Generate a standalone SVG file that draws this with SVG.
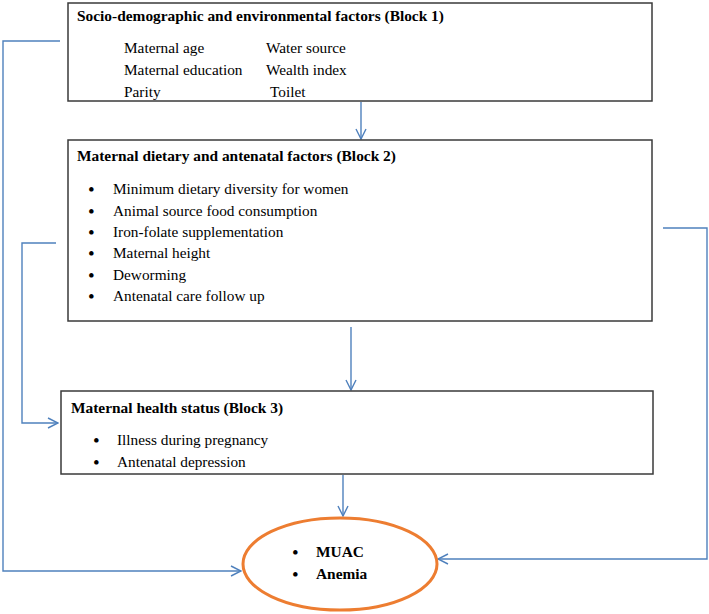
<svg xmlns="http://www.w3.org/2000/svg" width="709" height="614" viewBox="0 0 709 614">
<style>
.box{fill:#fff;stroke:#3a3a3a;stroke-width:1.5}
.t{font-family:"Liberation Serif","Times New Roman",serif;font-size:15.3px;fill:#000}
.b{font-family:"Liberation Serif","Times New Roman",serif;font-size:15.4px;font-weight:bold;fill:#000}
.d{font-family:"Liberation Serif","Times New Roman",serif;font-size:19px;fill:#000}
.c{fill:none;stroke:#4F81BD;stroke-width:1.4}
</style>
<defs>
<marker id="ah" viewBox="0 0 12 12" refX="11" refY="6" markerWidth="12" markerHeight="12" markerUnits="userSpaceOnUse" orient="auto">
<path d="M1,1 L11,6 L1,11" fill="none" stroke="#4F81BD" stroke-width="1.4"/>
</marker>
</defs>
<rect width="709" height="614" fill="#fff"/>
<g id="connectors">
<path class="c" d="M60,41 H3 V571 H241" marker-end="url(#ah)"/>
<path class="c" d="M361,102 V139" marker-end="url(#ah)"/>
<path class="c" d="M56,243 H22 V423 H58" marker-end="url(#ah)"/>
<path class="c" d="M663,228 H707 V559 H438" marker-end="url(#ah)"/>
<path class="c" d="M351,327 V390" marker-end="url(#ah)"/>
<path class="c" d="M343,475 V516" marker-end="url(#ah)"/>
</g>
<g id="block1">
<rect class="box" x="68" y="3" width="584" height="98"/>
<text class="b" x="77" y="21">Socio-demographic and environmental factors (Block 1)</text>
<text class="t" x="124" y="53">Maternal age</text>
<text class="t" x="266" y="53">Water source</text>
<text class="t" x="124" y="75">Maternal education</text>
<text class="t" x="266" y="75">Wealth index</text>
<text class="t" x="124" y="97">Parity</text>
<text class="t" x="270" y="97">Toilet</text>
</g>
<g id="block2">
<rect class="box" x="68" y="140" width="584" height="181"/>
<text class="b" x="77" y="161">Maternal dietary and antenatal factors (Block 2)</text>
<text class="d" x="88" y="196">•</text><text class="t" x="113" y="194">Minimum dietary diversity for women</text>
<text class="d" x="88" y="218">•</text><text class="t" x="113" y="216">Animal source food consumption</text>
<text class="d" x="88" y="239">•</text><text class="t" x="113" y="237">Iron-folate supplementation</text>
<text class="d" x="88" y="260">•</text><text class="t" x="113" y="258">Maternal height</text>
<text class="d" x="88" y="282">•</text><text class="t" x="113" y="280">Deworming</text>
<text class="d" x="88" y="303">•</text><text class="t" x="113" y="301">Antenatal care follow up</text>
</g>
<g id="block3">
<rect class="box" x="61" y="391" width="592" height="83"/>
<text class="b" x="71" y="413">Maternal health status (Block 3)</text>
<text class="d" x="93" y="447">•</text><text class="t" x="117" y="445">Illness during pregnancy</text>
<text class="d" x="93" y="469">•</text><text class="t" x="117" y="467">Antenatal depression</text>
</g>
<g id="outcome">
<ellipse cx="340" cy="564" rx="97" ry="46" fill="#fff" stroke="#ED7D31" stroke-width="3"/>
<text class="d" x="292" y="559">•</text><text class="b" x="316" y="557">MUAC</text>
<text class="d" x="292" y="581">•</text><text class="b" x="316" y="579">Anemia</text>
</g>
</svg>
